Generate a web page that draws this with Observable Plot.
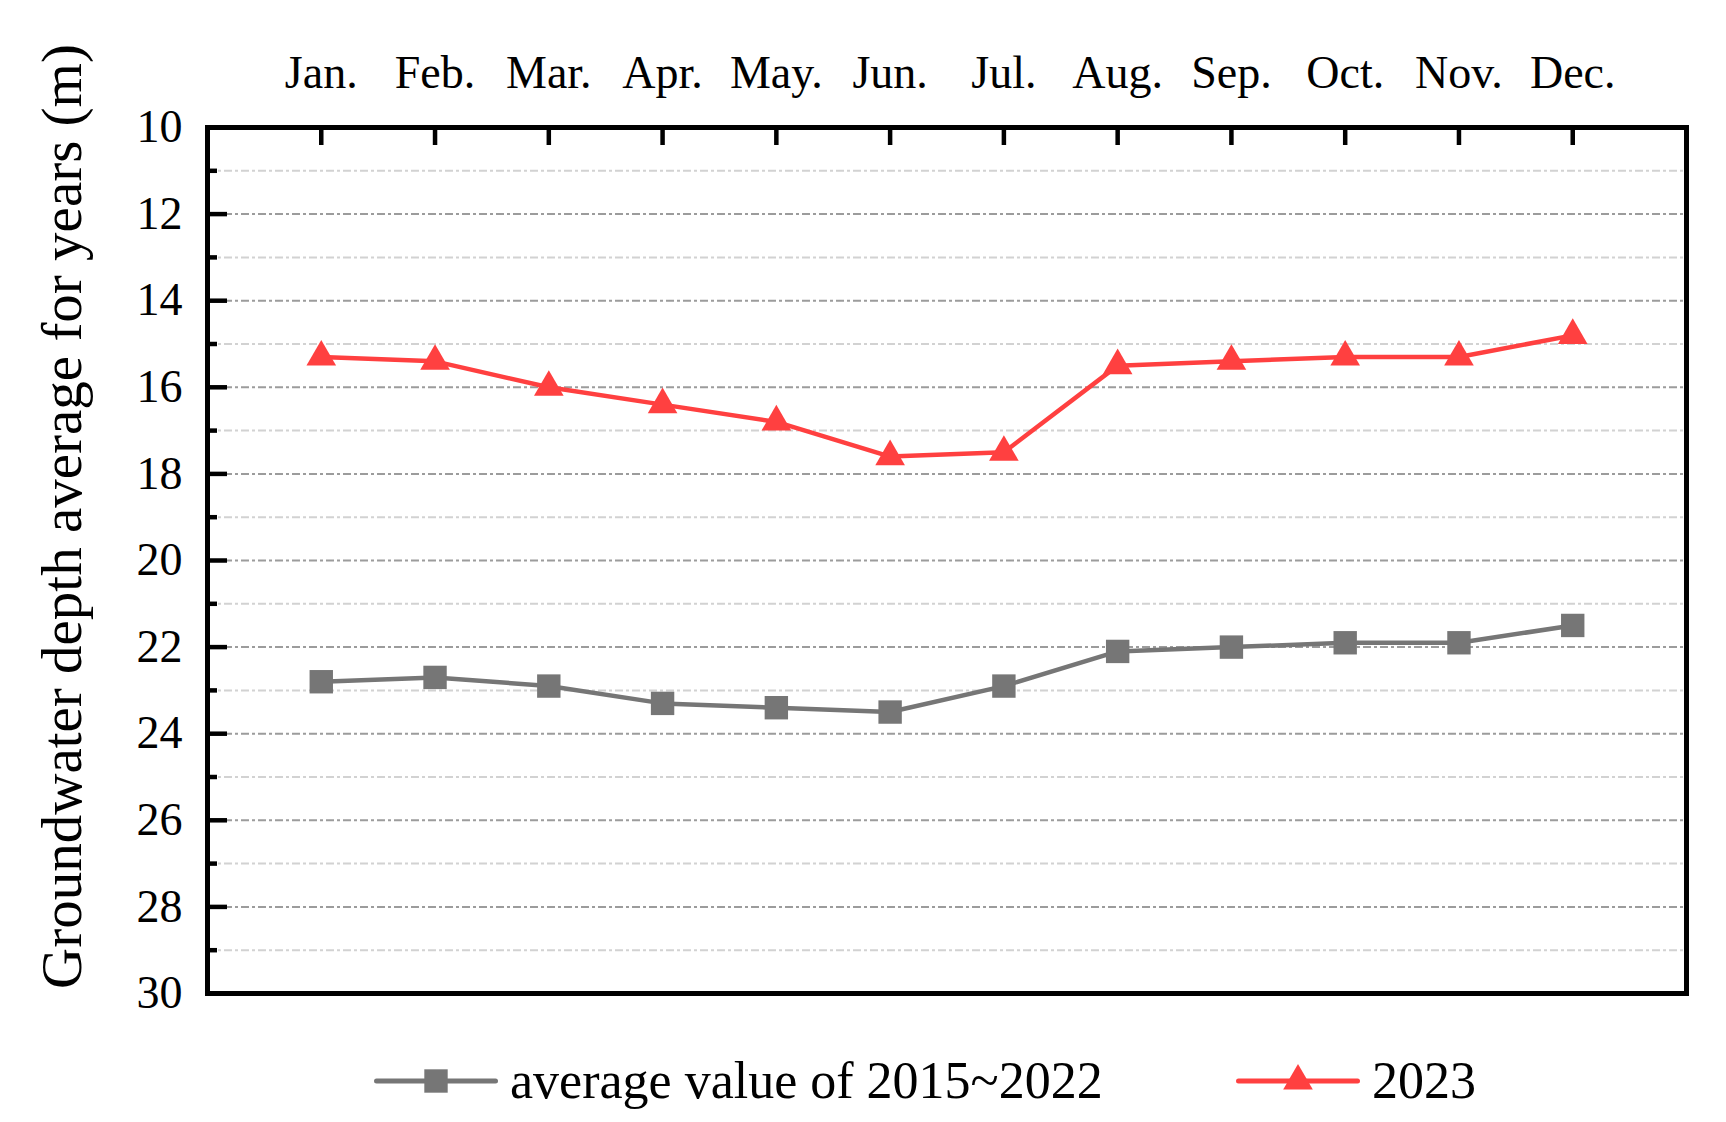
<!DOCTYPE html>
<html>
<head>
<meta charset="utf-8">
<script src="https://cdn.jsdelivr.net/npm/d3@7"></script>
<script src="https://cdn.jsdelivr.net/npm/@observablehq/plot@0.6"></script>
<style>
  html, body { margin: 0; padding: 0; background: #fff; }
  #wrap { position: relative; width: 1726px; height: 1122px; overflow: hidden; }
  #legend { position: absolute; left: 0; top: 0; width: 1726px; height: 1122px; pointer-events: none;
            font-family: "Liberation Serif", "Times New Roman", serif; font-size: 52px; color: #000; }
  #legend .item { position: absolute; top: 1053px; height: 56px; display: flex; align-items: center; }
  #legend .item span { margin-left: 12px; line-height: 1; white-space: nowrap; }
</style>
</head>
<body>
<div id="wrap">
  <div id="chart"></div>
  <div id="legend"></div>
</div>
<script>
// ---- data ----
const months = ["Jan.", "Feb.", "Mar.", "Apr.", "May.", "Jun.", "Jul.", "Aug.", "Sep.", "Oct.", "Nov.", "Dec."];
const avg2015_2022 = [22.8, 22.7, 22.9, 23.3, 23.4, 23.5, 22.9, 22.1, 22.0, 21.9, 21.9, 21.5];
const y2023 = [15.3, 15.4, 16.0, 16.4, 16.8, 17.6, 17.5, 15.5, 15.4, 15.3, 15.3, 14.8];
const yMajorTicks = [10, 12, 14, 16, 18, 20, 22, 24, 26, 28, 30];
const yMinorTicks = [11, 13, 15, 17, 19, 21, 23, 25, 27, 29];
const seriesNames = ["average value of 2015~2022", "2023"];
const yTitle = "Groundwater depth average for years (m)";

const monthIdx = months.map((m, i) => i + 1);
const avgData = months.map((m, i) => ({m: i + 1, v: avg2015_2022[i]}));
const redData = months.map((m, i) => ({m: i + 1, v: y2023[i]}));

const W = 1726, H = 1030;
const mL = 207, mR = 40, mT = 127, mB = 37;
const pw = W - mL - mR, ph = H - mT - mB;

const gray = "#767676", red = "#ff4040";
const dash = "8,3,3,3";
const serif = "'Liberation Serif', 'Times New Roman', serif";

const chart = Plot.plot({
  width: W,
  height: H,
  marginLeft: mL, marginRight: mR, marginTop: mT, marginBottom: mB,
  style: {fontFamily: serif, fontSize: "46px", background: "#fff", color: "#000"},
  x: {domain: [0, 13], axis: null},
  y: {domain: [10, 30], reverse: true, axis: null},
  marks: [
    // grid
    Plot.ruleY(yMinorTicks, {y: d => d, stroke: "#d2d2d2", strokeWidth: 2, strokeDasharray: dash}),
    Plot.ruleY(yMajorTicks.filter(d => d !== 10 && d !== 30), {y: d => d, stroke: "#9c9c9c", strokeWidth: 2, strokeDasharray: dash}),
    // inward ticks
    Plot.ruleX(monthIdx, {x: d => d, insetBottom: ph - 18, stroke: "#000", strokeWidth: 4.5}),
    Plot.ruleY(yMajorTicks, {y: d => d, insetRight: pw - 20, stroke: "#000", strokeWidth: 4.5}),
    Plot.ruleY(yMinorTicks, {y: d => d, insetRight: pw - 10, stroke: "#000", strokeWidth: 4.5}),
    // series
    Plot.line(avgData, {x: "m", y: "v", stroke: gray, strokeWidth: 4.5, strokeLinejoin: "round"}),
    Plot.dot(avgData, {x: "m", y: "v", symbol: "square", r: 13.2, fill: gray, stroke: "none"}),
    Plot.line(redData, {x: "m", y: "v", stroke: red, strokeWidth: 4.5, strokeLinejoin: "round"}),
    Plot.dot(redData, {x: "m", y: "v", symbol: "triangle", r: 11, fill: red, stroke: "none"}),
    // frame
    Plot.frame({stroke: "#000", strokeWidth: 5}),
    // axes
    Plot.axisX(monthIdx, {anchor: "top", tickSize: 0, tickPadding: 40, tickFormat: i => months[i - 1], fontSize: 46, fontFamily: serif, label: null}),
    Plot.axisY(yMajorTicks, {anchor: "left", tickSize: 0, tickPadding: 25, fontSize: 46, fontFamily: serif, label: null}),
    // y title
    Plot.text([yTitle], {text: d => d, frameAnchor: "left", textAnchor: "middle", rotate: -90, dx: -145, dy: -44, fontSize: 57, fontFamily: serif, fill: "#000"})
  ]
});
document.getElementById("chart").appendChild(chart);

// ---- legend ----
const legend = document.getElementById("legend");
function swatch(color, shape) {
  const ns = "http://www.w3.org/2000/svg";
  const svg = document.createElementNS(ns, "svg");
  svg.setAttribute("width", 124); svg.setAttribute("height", 40);
  const line = document.createElementNS(ns, "line");
  line.setAttribute("x1", 2.5); line.setAttribute("x2", 121.5);
  line.setAttribute("y1", 20); line.setAttribute("y2", 20);
  line.setAttribute("stroke", color); line.setAttribute("stroke-width", 5);
  line.setAttribute("stroke-linecap", "round");
  svg.appendChild(line);
  const p = document.createElementNS(ns, "path");
  p.setAttribute("d", d3.symbol(shape === "square" ? d3.symbolSquare : d3.symbolTriangle, shape === "square" ? Math.PI * 13.2 * 13.2 : Math.PI * 11 * 11)());
  p.setAttribute("transform", "translate(62,20)");
  p.setAttribute("fill", color);
  svg.appendChild(p);
  return svg;
}
const items = [[seriesNames[0], gray, "square", 374], [seriesNames[1], red, "triangle", 1236]];
items.forEach(([name, color, shape, left]) => {
  const it = document.createElement("div");
  it.className = "item";
  it.style.left = left + "px";
  it.appendChild(swatch(color, shape));
  const s = document.createElement("span");
  s.textContent = name;
  it.appendChild(s);
  legend.appendChild(it);
});
</script>
</body>
</html>
